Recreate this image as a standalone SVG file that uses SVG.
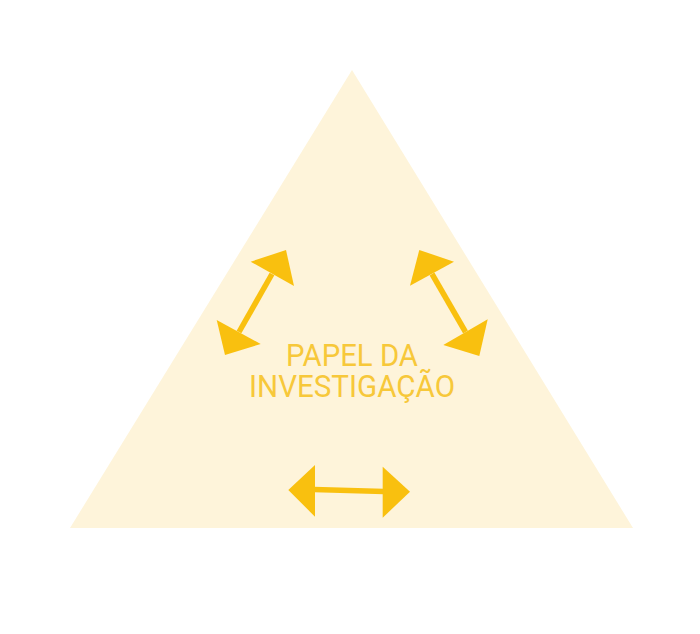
<svg xmlns="http://www.w3.org/2000/svg" width="700" height="634" viewBox="0 0 700 634">
<style>
.arrow{fill:#F9C00F}
.shaft{stroke:#F9C00F;stroke-width:5.5;fill:none}
.label{font-family:Roboto,"Liberation Sans",sans-serif;font-size:30px;font-weight:400;fill:#F7C83A;text-anchor:middle}
</style>
<rect width="700" height="634" fill="#ffffff"/>
<g id="triangle">
<polygon points="352,70 70,528 633,528" fill="#FEF4DA"/>
</g>
<g id="label">
<text class="label" x="352" y="366" textLength="132" lengthAdjust="spacingAndGlyphs" transform="translate(352 366) scale(1 1.05) translate(-352 -366)">PAPEL DA</text>
<text class="label" x="352" y="397.5" textLength="206" lengthAdjust="spacingAndGlyphs" transform="translate(352 397.5) scale(1 1.05) translate(-352 -397.5)">INVESTIGAÇÃO</text>
</g>
<g id="connectors">
<g id="arrow-left">
<line class="shaft" x1="272" y1="274" x2="239" y2="332"/>
<polygon class="arrow" points="250.7,261.7 286,250 294,286"/>
<polygon class="arrow" points="216.7,320 225,355 260.7,344"/>
</g>
<g id="arrow-right">
<line class="shaft" x1="432" y1="274" x2="465.5" y2="332"/>
<polygon class="arrow" points="410,285.7 419.3,250 454,261.7"/>
<polygon class="arrow" points="443.3,345 487.7,319.3 479.3,356"/>
</g>
<g id="arrow-bottom">
<line class="shaft" x1="314" y1="489.5" x2="384" y2="491.5"/>
<polygon class="arrow" points="288.3,490 315,465 315,516.7"/>
<polygon class="arrow" points="382.7,466.7 410,491.7 382.7,517.7"/>
</g>
</g>
</svg>
